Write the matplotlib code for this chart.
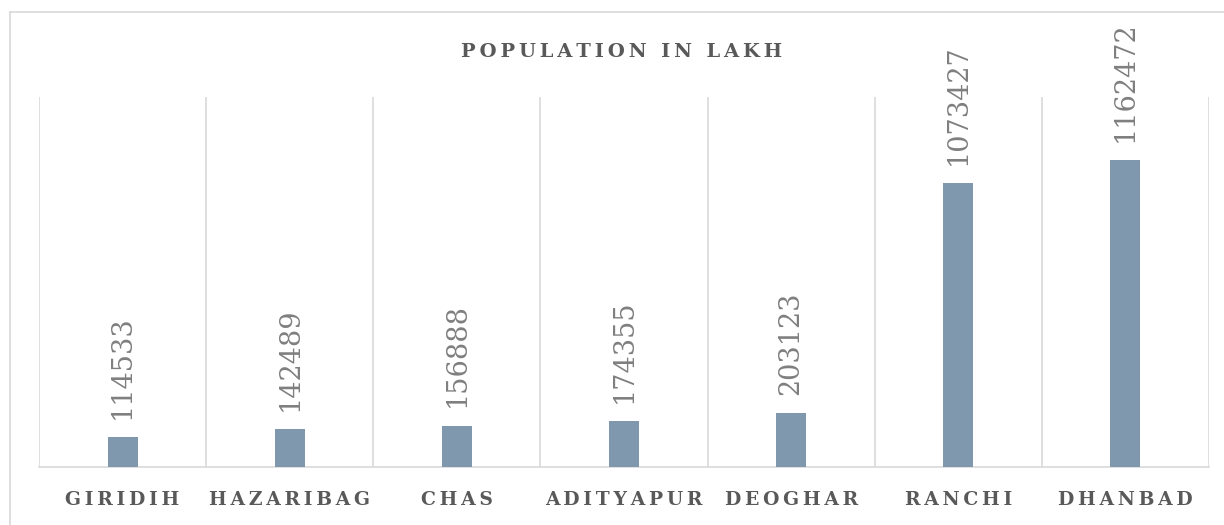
"""Population bar chart for Jharkhand cities."""

import matplotlib
matplotlib.use("Agg")
import matplotlib.pyplot as plt
from matplotlib.lines import Line2D
import numpy as np

cities = ["GIRIDIH", "HAZARIBAG", "CHAS", "ADITYAPUR", "DEOGHAR", "RANCHI", "DHANBAD"]
population = [114533, 142489, 156888, 174355, 203123, 1073427, 1162472]
title = "POPULATION IN LAKH"

BAR = "#7f98ad"
GRID = "#d9d9d9"
TEXT = "#595959"
LABEL = "#7f7f7f"
THIN = "\u2009"


def spaced(s):
    # crude letter spacing, matplotlib has none
    return THIN.join(s)


plt.rcParams["font.family"] = ["DejaVu Serif"]

fig = plt.figure(figsize=(12.24, 5.25), dpi=100)
ax = fig.add_axes([39 / 1224, 58 / 525, 1170 / 1224, 370 / 525])

x = np.arange(len(cities))
ax.bar(x, population, width=0.18, color=BAR, zorder=3)

for xi, v in zip(x, population):
    ax.annotate(str(v), (xi, v), xytext=(0, 13), textcoords="offset points",
                rotation=90, ha="center", va="bottom", fontsize=19.5, color=LABEL)

ax.set_xlim(-0.5, len(cities) - 0.5)
ax.set_ylim(0, 1400000)
ax.set_yticks([])
ax.set_xticks(x)
ax.set_xticklabels([spaced(c) for c in cities], fontsize=13.5, fontweight="bold", color=TEXT)
ax.tick_params(axis="x", length=0, pad=17)
ax.set_xticks(np.arange(-0.5, len(cities)), minor=True)
ax.tick_params(axis="x", which="minor", length=0)
ax.grid(which="minor", axis="x", color=GRID, linewidth=1.2)

for side in ["top", "left", "right"]:
    ax.spines[side].set_visible(False)
ax.spines["bottom"].set_color(GRID)
ax.spines["bottom"].set_linewidth(1.2)

fig.text(622 / 1224, 1 - 52 / 525, spaced(title), ha="center", va="center",
         fontsize=14, fontweight="bold", color=TEXT)

# outer chart frame (only left and top edges show)
fig.add_artist(Line2D([10 / 1224, 10 / 1224], [0, 1 - 12 / 525], color=GRID, lw=1.2))
fig.add_artist(Line2D([10 / 1224, 1], [1 - 12 / 525, 1 - 12 / 525], color=GRID, lw=1.2))

fig.savefig("out.png", dpi=100)
